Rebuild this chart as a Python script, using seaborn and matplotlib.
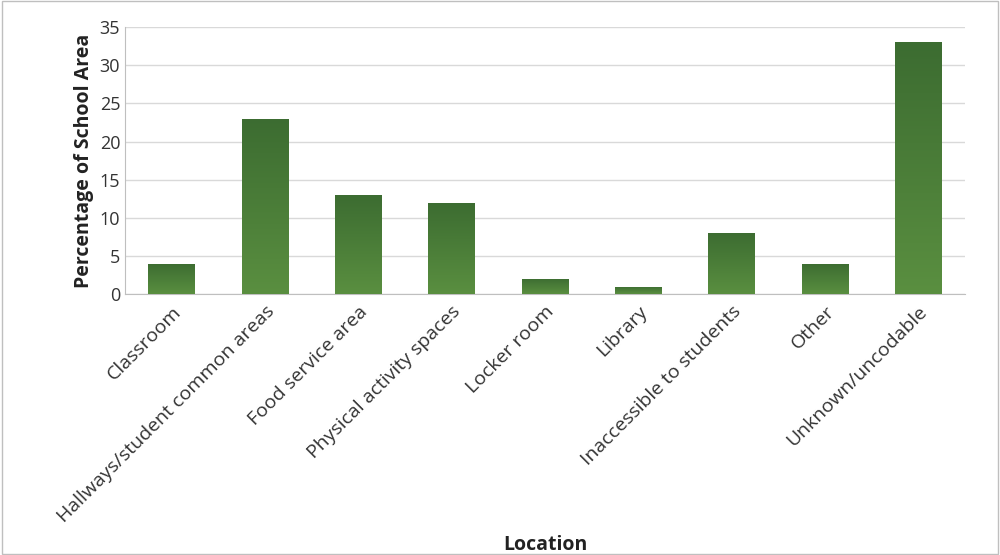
import numpy as np
import pandas as pd
import matplotlib
matplotlib.use("Agg")
import matplotlib.pyplot as plt
import seaborn as sns
from matplotlib.colors import LinearSegmentedColormap

locations = ["Classroom", "Hallways/student common areas", "Food service area",
             "Physical activity spaces", "Locker room", "Library",
             "Inaccessible to students", "Other", "Unknown/uncodable"]
percentages = [4, 23, 13, 12, 2, 1, 8, 4, 33]

df = pd.DataFrame({"Location": locations, "Percentage": percentages})

sns.set_style("white")
plt.rcParams["font.family"] = ["Open Sans", "DejaVu Sans"]

fig = plt.figure(figsize=(10, 5.55), dpi=100)
ax = fig.add_axes([0.125, 0.47, 0.84, 0.481])
sns.barplot(data=df, x="Location", y="Percentage", color="#4a7d38", width=0.5, ax=ax, zorder=2)

# vertical gradient on each bar
cmap = LinearSegmentedColormap.from_list("g", ["#5a8f40", "#3c6c31"])
grad = np.linspace(0, 1, 256).reshape(-1, 1)
for p in ax.patches:
    x0, y0, w, h = p.get_x(), p.get_y(), p.get_width(), p.get_height()
    im = ax.imshow(grad, cmap=cmap, aspect="auto", origin="lower",
                   extent=[x0, x0 + w, y0, y0 + h], zorder=3)
    im.set_clip_path(p)
    p.set_alpha(0)
ax.set_xlim(-0.5, len(locations) - 0.5)
ax.set_ylim(0, 35)
ax.set_yticks(range(0, 36, 5))
ax.yaxis.grid(True, color="#d9d9d9", linewidth=1, zorder=0)
for s in ["top", "right"]:
    ax.spines[s].set_visible(False)
ax.spines["left"].set_color("#bfbfbf")
ax.spines["bottom"].set_color("#bfbfbf")
ax.tick_params(axis="y", labelsize=13, colors="#333333", length=0)
ax.tick_params(axis="x", labelsize=14, colors="#333333", length=0, pad=6)
plt.setp(ax.get_xticklabels(), rotation=45, ha="right", rotation_mode="anchor")
ax.set_xlabel("Location", fontsize=14, fontweight="bold", color="#222222", labelpad=6)
ax.set_ylabel("Percentage of School Area", fontsize=14, fontweight="bold", color="#222222")

fig.patches.append(plt.Rectangle((0.002, 0.002), 0.996, 0.996, transform=fig.transFigure,
                                 fill=False, edgecolor="#bfbfbf", linewidth=1))
fig.savefig("out.png", dpi=100)
